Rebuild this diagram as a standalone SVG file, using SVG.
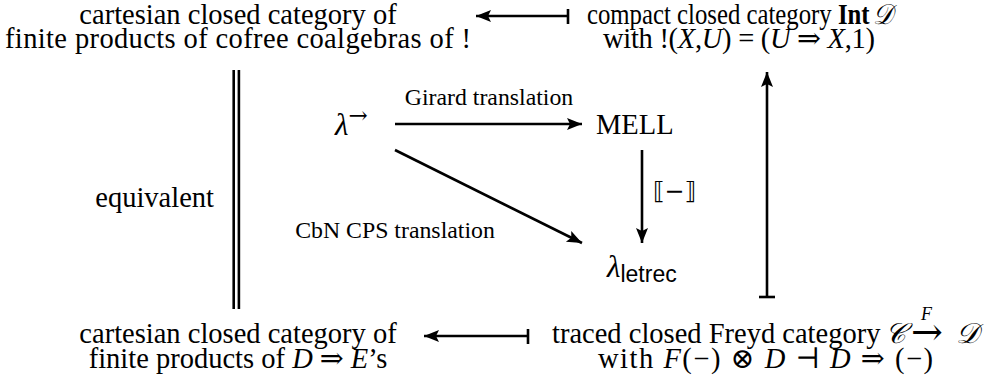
<svg xmlns="http://www.w3.org/2000/svg" width="987" height="381" viewBox="0 0 987 381">
<style>
text{font-family:"Liberation Serif","DejaVu Serif",serif;font-size:28.5px;fill:#000}
.c{text-anchor:middle}
.it{font-style:italic}
.bf{font-weight:bold}
.lbl{font-size:23.8px}
.sans{font-family:"Liberation Sans","DejaVu Sans",sans-serif}
.sym{font-family:"DejaVu Serif","DejaVu Sans",serif}
.ln{stroke:#000;stroke-width:2.6;fill:none}
</style>
<defs>
<marker id="ah" markerUnits="userSpaceOnUse" markerWidth="18" markerHeight="14" refX="15" refY="7" orient="auto">
<path d="M15,7 L0,1 L3,7 L0,13 Z" fill="#000"/>
</marker>
</defs>
<rect width="987" height="381" fill="#fff"/>
<g id="connectors">
<g id="e_top"><line class="ln" x1="568" y1="16" x2="476" y2="16" marker-end="url(#ah)"/><line class="ln" x1="568" y1="9" x2="568" y2="24"/></g>
<g id="e_bottom"><line class="ln" x1="528" y1="336" x2="424" y2="336" marker-end="url(#ah)"/><line class="ln" x1="528" y1="329" x2="528" y2="344"/></g>
<g id="e_right"><line class="ln" x1="767" y1="297" x2="767" y2="72" marker-end="url(#ah)"/><line class="ln" x1="759" y1="297" x2="775" y2="297"/></g>
<g id="e_equiv"><line class="ln" x1="233.7" y1="70" x2="233.7" y2="309"/><line class="ln" x1="238.9" y1="70" x2="238.9" y2="309"/>
<text x="214" y="207" text-anchor="end">equivalent</text></g>
<g id="e_girard"><line class="ln" x1="395" y1="124" x2="582" y2="124" marker-end="url(#ah)"/>
<text class="lbl c" x="489" y="105">Girard translation</text></g>
<g id="e_cps"><line class="ln" x1="395" y1="150" x2="582" y2="243" marker-end="url(#ah)"/>
<text class="lbl c" x="395" y="238">CbN CPS translation</text></g>
<g id="e_sem"><line class="ln" x1="642" y1="150" x2="642" y2="243" marker-end="url(#ah)"/>
<text class="lbl sym" x="653" y="199">⟦−⟧</text></g>
</g>
<g id="n_ccc_top"><text class="c" x="238" y="24">cartesian closed category of</text><text class="c" x="238" y="48" textLength="466" lengthAdjust="spacing">finite products of cofree coalgebras of !</text></g>
<g id="n_compact"><text x="587" y="24" textLength="306" lengthAdjust="spacingAndGlyphs">compact closed category <tspan class="bf">Int</tspan><tspan class="it" dx="4">𝒟</tspan></text>
<text x="603" y="48" textLength="272" lengthAdjust="spacing">with !(<tspan class="it">X</tspan>,<tspan class="it">U</tspan>) = (<tspan class="it">U</tspan> <tspan class="sym">⇒</tspan> <tspan class="it">X</tspan>,1)</text></g>
<g id="n_lambda"><text x="335" y="135"><tspan class="it" font-size="31">λ</tspan><tspan class="sym" font-size="23" dy="-12">→</tspan></text></g>
<g id="n_mell"><text x="596" y="134">MELL</text></g>
<g id="n_letrec"><text x="607" y="277"><tspan class="it" font-size="31">λ</tspan><tspan class="sans" font-size="23" dy="5">letrec</tspan></text></g>
<g id="n_ccc_bottom"><text class="c" x="238" y="343">cartesian closed category of</text><text class="c" x="238" y="368">finite products of <tspan class="it">D</tspan> <tspan class="sym">⇒</tspan> <tspan class="it">E</tspan>’s</text></g>
<g id="n_freyd"><text x="552" y="343">traced closed Freyd category</text>
<text class="it" x="885" y="343">𝒞</text>
<text x="911" y="345" style="font-family:'DejaVu Serif',serif;font-size:38px">→</text>
<text class="it" x="921" y="320" style="font-size:18px">F</text>
<text class="it" x="956" y="343">𝒟</text>
<text x="598" y="368" textLength="335" lengthAdjust="spacing">with <tspan class="it">F</tspan>(−) <tspan class="sym">⊗</tspan> <tspan class="it">D</tspan> <tspan class="sym">⊣</tspan> <tspan class="it">D</tspan> <tspan class="sym">⇒</tspan> (−)</text></g>
</svg>
